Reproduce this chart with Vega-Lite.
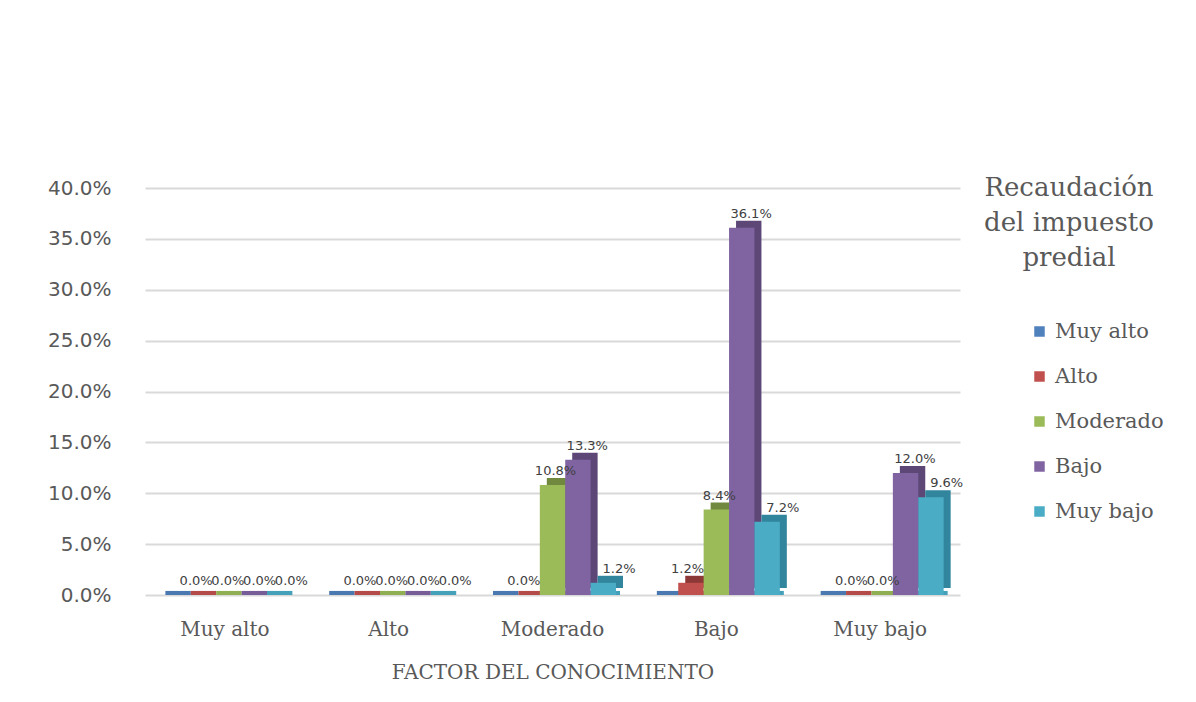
{
  "$schema": "https://vega.github.io/schema/vega-lite/v6.json",
  "width": 815,
  "height": 407,
  "autosize": {"type": "none"},
  "padding": {"left": 145, "top": 188, "right": 236, "bottom": 107},
  "background": "white",
  "config": {
    "view": {"stroke": null},
    "font": "DejaVu Serif"
  },
  "data": {
    "values": [
      {"factor": "Muy alto", "serie": "Muy alto", "valor": 0},
      {"factor": "Muy alto", "serie": "Alto", "valor": 0},
      {"factor": "Muy alto", "serie": "Moderado", "valor": 0},
      {"factor": "Muy alto", "serie": "Bajo", "valor": 0},
      {"factor": "Muy alto", "serie": "Muy bajo", "valor": 0},
      {"factor": "Alto", "serie": "Muy alto", "valor": 0},
      {"factor": "Alto", "serie": "Alto", "valor": 0},
      {"factor": "Alto", "serie": "Moderado", "valor": 0},
      {"factor": "Alto", "serie": "Bajo", "valor": 0},
      {"factor": "Alto", "serie": "Muy bajo", "valor": 0},
      {"factor": "Moderado", "serie": "Muy alto", "valor": 0},
      {"factor": "Moderado", "serie": "Alto", "valor": 0},
      {"factor": "Moderado", "serie": "Moderado", "valor": 0.108},
      {"factor": "Moderado", "serie": "Bajo", "valor": 0.133},
      {"factor": "Moderado", "serie": "Muy bajo", "valor": 0.012},
      {"factor": "Bajo", "serie": "Muy alto", "valor": 0},
      {"factor": "Bajo", "serie": "Alto", "valor": 0.012},
      {"factor": "Bajo", "serie": "Moderado", "valor": 0.084},
      {"factor": "Bajo", "serie": "Bajo", "valor": 0.361},
      {"factor": "Bajo", "serie": "Muy bajo", "valor": 0.072},
      {"factor": "Muy bajo", "serie": "Muy alto", "valor": 0},
      {"factor": "Muy bajo", "serie": "Alto", "valor": 0},
      {"factor": "Muy bajo", "serie": "Moderado", "valor": 0},
      {"factor": "Muy bajo", "serie": "Bajo", "valor": 0.12},
      {"factor": "Muy bajo", "serie": "Muy bajo", "valor": 0.096}
    ]
  },
  "encoding": {
    "x": {
      "field": "factor",
      "type": "nominal",
      "sort": ["Muy alto", "Alto", "Moderado", "Bajo", "Muy bajo"],
      "scale": {"paddingInner": 0.225, "paddingOuter": 0.1},
      "axis": {
        "title": "FACTOR DEL CONOCIMIENTO",
        "labelAngle": 0,
        "labelFontSize": 20,
        "labelColor": "#595959",
        "labelPadding": 24,
        "ticks": false,
        "domain": false,
        "titleFontSize": 20,
        "titleFontWeight": "normal",
        "titleColor": "#595959",
        "titlePadding": 23
      }
    },
    "y": {
      "field": "valor",
      "type": "quantitative",
      "scale": {"domain": [0, 0.4]},
      "axis": {
        "title": null,
        "format": ".1%",
        "values": [0, 0.05, 0.1, 0.15, 0.2, 0.25, 0.3, 0.35, 0.4],
        "labelFont": "DejaVu Sans",
        "labelFontSize": 20,
        "labelColor": "#595959",
        "labelPadding": 34,
        "ticks": false,
        "domain": false,
        "gridColor": "#d9d9d9",
        "gridWidth": 2
      }
    }
  },
  "layer": [
    {
      "mark": {"type": "bar"},
      "encoding": {
        "y": {"datum": 0, "type": "quantitative"},
        "y2": {"datum": 0.004},
        "xOffset": {
          "field": "serie",
          "type": "nominal",
          "sort": ["Muy alto", "Alto", "Moderado", "Bajo", "Muy bajo"],
          "scale": {"range": [4, 131], "paddingInner": 0, "paddingOuter": 0}
        },
        "color": {
          "field": "serie",
          "type": "nominal",
          "legend": null,
          "scale": {
            "domain": ["Muy alto", "Alto", "Moderado", "Bajo", "Muy bajo"],
            "range": ["#4a78b0", "#b44b48", "#90af52", "#775d97", "#45a1b9"]
          }
        }
      }
    },
    {
      "mark": {"type": "bar", "yOffset": -7},
      "encoding": {
        "xOffset": {
          "field": "serie",
          "type": "nominal",
          "sort": ["Muy alto", "Alto", "Moderado", "Bajo", "Muy bajo"],
          "scale": {"range": [7, 134], "paddingInner": 0, "paddingOuter": 0}
        },
        "color": {
          "field": "serie",
          "type": "nominal",
          "legend": null,
          "scale": {
            "domain": ["Muy alto", "Alto", "Moderado", "Bajo", "Muy bajo"],
            "range": ["#385d8a", "#8c3836", "#71893f", "#5c4776", "#31859c"]
          }
        }
      }
    },
    {
      "mark": {"type": "bar"},
      "encoding": {
        "xOffset": {
          "field": "serie",
          "type": "nominal",
          "sort": ["Muy alto", "Alto", "Moderado", "Bajo", "Muy bajo"],
          "scale": {"range": [0, 127], "paddingInner": 0, "paddingOuter": 0}
        },
        "color": {
          "field": "serie",
          "type": "nominal",
          "scale": {
            "domain": ["Muy alto", "Alto", "Moderado", "Bajo", "Muy bajo"],
            "range": ["#4f81bd", "#c0504d", "#9bbb59", "#8064a2", "#4bacc6"]
          },
          "legend": {
            "title": ["Recaudación", "del impuesto", "predial"],
            "orient": "none",
            "legendX": 830,
            "legendY": -13,
            "titleFontSize": 26,
            "titleFontWeight": "normal",
            "titleColor": "#595959",
            "titleAlign": "center",
            "titleAnchor": "middle",
            "titleLineHeight": 35,
            "titleLimit": 400,
            "titlePadding": 50,
            "symbolType": "square",
            "symbolSize": 110,
            "symbolOffset": 54,
            "symbolStrokeWidth": 0,
            "labelFontSize": 21,
            "labelColor": "#595959",
            "labelOffset": 5,
            "rowPadding": 23
          }
        }
      }
    },
    {
      "transform": [{"filter": "datum.serie != 'Muy alto'"}],
      "mark": {"type": "text", "dy": -14, "font": "DejaVu Sans", "fontSize": 13, "color": "#404040"},
      "encoding": {
        "xOffset": {
          "field": "serie",
          "type": "nominal",
          "scale": {
            "domain": ["Muy alto", "Alto", "Moderado", "Bajo", "Muy bajo"],
            "range": [3, 130],
            "paddingInner": 0,
            "paddingOuter": 0
          }
        },
        "text": {"field": "valor", "type": "quantitative", "format": ".1%"}
      }
    }
  ],
  "resolve": {"scale": {"color": "independent", "xOffset": "independent"}}
}
